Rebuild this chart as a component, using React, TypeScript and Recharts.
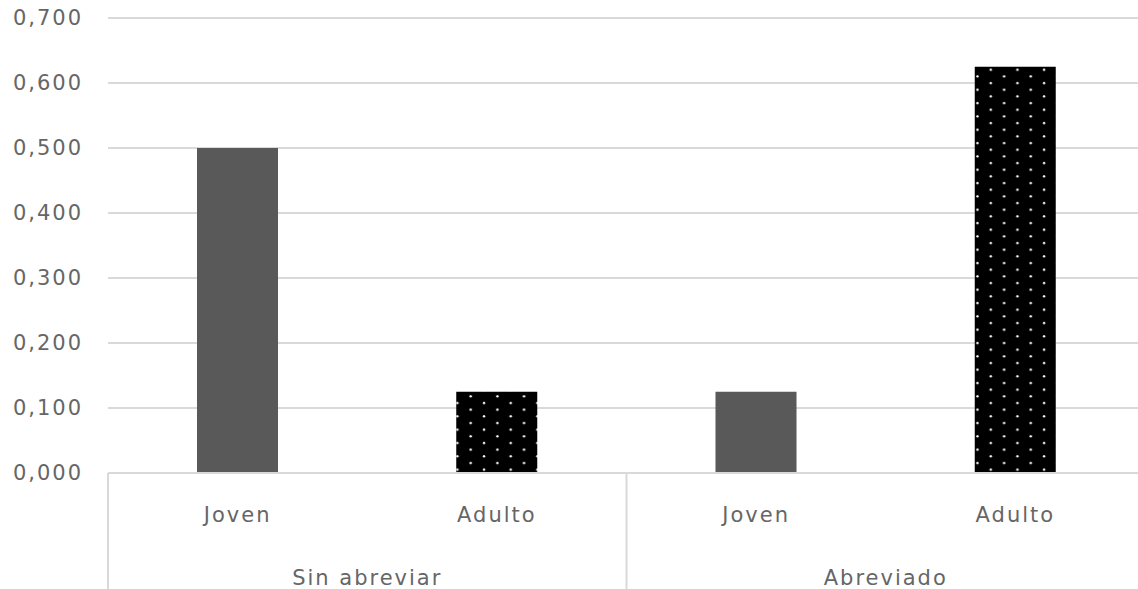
import { BarChart, Bar, XAxis, YAxis, CartesianGrid, Cell } from 'recharts'

// Proportions by age group, with and without abbreviation
const ages = ['Joven', 'Adulto', 'Joven', 'Adulto']
const groups = ['Sin abreviar', 'Sin abreviar', 'Abreviado', 'Abreviado']
const values = [0.5, 0.125, 0.125, 0.625]
const yTicks = [0, 0.1, 0.2, 0.3, 0.4, 0.5, 0.6, 0.7]

const data = ages.map((age, i) => ({ age, group: groups[i], value: values[i] }))

const TEXT = '#666666'
const GRID = '#d9d9d9'
const FONT = { fontFamily: '"DejaVu Sans", sans-serif', fontSize: 21, letterSpacing: 2 }
const ROW = 58

const fmt = (v: number) => v.toFixed(3).replace('.', ',')

function AgeTick({ x, y, payload }: any) {
  return (
    <text x={x} y={y} dy={41} textAnchor="middle" fill={TEXT} style={FONT}>
      {payload.value}
    </text>
  )
}

function GroupTick({ x, y, payload }: any) {
  const half = payload.offset ?? 0
  const edge = x - half
  return (
    <g>
      <line x1={edge} x2={edge} y1={y - 8 - ROW} y2={y + ROW} stroke={GRID} strokeWidth={2} />
      <text x={x} y={y} dy={46} textAnchor="middle" fill={TEXT} style={FONT}>
        {payload.value}
      </text>
    </g>
  )
}

export default function App() {
  return (
    <div style={{ position: 'absolute', left: 0, top: 0, width: 1138, height: 589, overflow: 'hidden', background: '#fff' }}>
      <BarChart
        width={1145}
        height={589}
        data={data}
        margin={{ top: 18, right: 0, bottom: 0, left: 0 }}
        barCategoryGap={0}
      >
        <defs>
          <pattern id="dots" width={26.67} height={13.33} patternUnits="userSpaceOnUse">
            <rect width={26.67} height={13.33} fill="#000" />
            <circle cx={4} cy={3} r={1.2} fill="#fff" />
            <circle cx={17.33} cy={9.67} r={1.2} fill="#fff" />
          </pattern>
        </defs>
        <CartesianGrid vertical={false} stroke={GRID} strokeWidth={2} />
        <YAxis
          width={108}
          domain={[0, 0.7]}
          ticks={yTicks}
          tickFormatter={fmt}
          axisLine={false}
          tickLine={false}
          tickMargin={19}
          tick={{ fill: TEXT, ...FONT }}
        />
        <XAxis
          xAxisId="age"
          dataKey="age"
          height={ROW}
          axisLine={{ stroke: GRID, strokeWidth: 2 }}
          tickLine={false}
          tick={<AgeTick />}
          interval={0}
        />
        <XAxis
          xAxisId="group"
          dataKey="group"
          allowDuplicatedCategory={false}
          height={ROW}
          axisLine={false}
          tickLine={false}
          tick={<GroupTick />}
          interval={0}
        />
        <Bar dataKey="value" xAxisId="age" barSize={81} isAnimationActive={false}>
          {data.map((d, i) => (
            <Cell key={i} fill={d.age === 'Joven' ? '#595959' : 'url(#dots)'} />
          ))}
        </Bar>
      </BarChart>
    </div>
  )
}
